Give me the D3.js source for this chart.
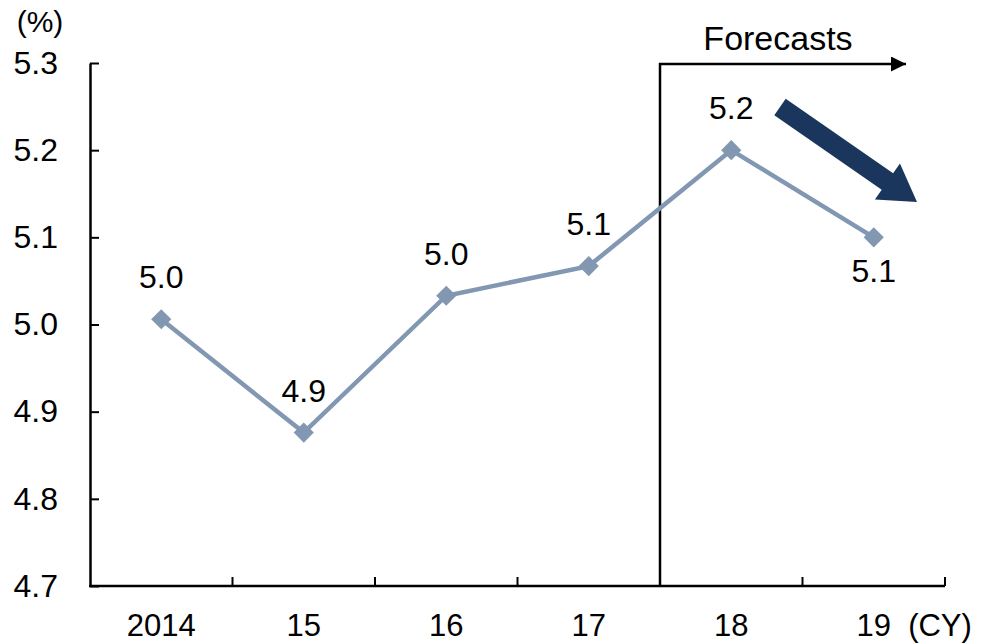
<!DOCTYPE html>
<html>
<head>
<meta charset="utf-8">
<script src="https://cdn.jsdelivr.net/npm/d3@7"></script>
<style>
  body { margin: 0; background: #fff; }
  text { font-family: "Liberation Sans", Arial, sans-serif; fill: #000; }
</style>
</head>
<body>
<script>
// values
var years = ["2014", "15", "16", "17", "18", "19"];
var rate = [5.006, 4.876, 5.033, 5.067, 5.2, 5.1];
var rateLabels = ["5.0", "4.9", "5.0", "5.1", "5.2", "5.1"];
var yTicks = [4.7, 4.8, 4.9, 5.0, 5.1, 5.2, 5.3];
var forecastFrom = "18";

var W = 982, H = 644;
var svg = d3.select("body").append("svg")
    .attr("width", W)
    .attr("height", H);

var x = d3.scaleBand()
    .domain(years)
    .range([90, 945])
    .padding(0);

var y = d3.scaleLinear()
    .domain([4.7, 5.3])
    .range([586, 63]);

// y axis
var yAxis = svg.append("g")
    .attr("transform", "translate(90,0)")
    .call(d3.axisLeft(y)
        .tickValues(yTicks)
        .tickFormat(d3.format(".1f"))
        .tickSizeInner(-9)
        .tickSizeOuter(0)
        .tickPadding(32));
yAxis.select(".domain").attr("stroke", "#000").attr("stroke-width", 2.5);
yAxis.selectAll(".tick line").attr("stroke", "#000").attr("stroke-width", 2);
yAxis.selectAll(".tick text")
    .attr("font-size", 32)
    .attr("font-family", "Liberation Sans, Arial, sans-serif")
    .attr("fill", "#000");

// x axis: ticks at band edges, pointing up
var edges = years.map(function(d){ return x(d); }).concat([x.range()[1]]);
var xg = svg.append("g");
xg.append("line")
    .attr("x1", 89).attr("x2", 945)
    .attr("y1", y(4.7)).attr("y2", y(4.7))
    .attr("stroke", "#000").attr("stroke-width", 2.5);
xg.selectAll("line.tk")
    .data(edges.slice(1))
    .enter()
    .append("line")
    .attr("class", "tk")
    .attr("x1", function(d){ return d; })
    .attr("x2", function(d){ return d; })
    .attr("y1", y(4.7))
    .attr("y2", y(4.7) - 9)
    .attr("stroke", "#000").attr("stroke-width", 2);
xg.selectAll("text.lab")
    .data(years)
    .enter()
    .append("text")
    .attr("class", "lab")
    .attr("x", function(d){ return x(d) + x.bandwidth() / 2; })
    .attr("y", 636)
    .attr("text-anchor", "middle")
    .attr("font-size", 31)
    .text(function(d){ return d; });

svg.append("text")
    .attr("x", 940).attr("y", 636)
    .attr("text-anchor", "middle")
    .attr("font-size", 31)
    .text("(CY)");

svg.append("text")
    .attr("x", 40).attr("y", 32)
    .attr("text-anchor", "middle")
    .attr("font-size", 30)
    .text("(%)");

// forecast bracket
var fx = x(forecastFrom);
svg.append("defs").append("marker")
    .attr("id", "ah")
    .attr("viewBox", "0 0 10 10")
    .attr("refX", 10).attr("refY", 5)
    .attr("markerWidth", 7).attr("markerHeight", 6)
    .attr("markerUnits", "strokeWidth")
    .attr("orient", "auto")
    .append("path")
    .attr("d", "M0,0L10,5L0,10Z")
    .attr("fill", "#000");
svg.append("line")
    .attr("x1", fx).attr("x2", fx)
    .attr("y1", y(4.7)).attr("y2", y(5.3))
    .attr("stroke", "#000").attr("stroke-width", 2.5);
svg.append("line")
    .attr("x1", fx - 1).attr("x2", 906)
    .attr("y1", y(5.3) + 1).attr("y2", y(5.3) + 1)
    .attr("stroke", "#000").attr("stroke-width", 2.5)
    .attr("marker-end", "url(#ah)");
svg.append("text")
    .attr("x", 778).attr("y", 50)
    .attr("text-anchor", "middle")
    .attr("font-size", 34)
    .text("Forecasts");

// series line
var pts = years.map(function(d, i){ return { yr: d, v: rate[i], lab: rateLabels[i] }; });
var cx = function(d){ return x(d.yr) + x.bandwidth() / 2; };

svg.append("path")
    .datum(pts)
    .attr("fill", "none")
    .attr("stroke", "#8297b1")
    .attr("stroke-width", 4.5)
    .attr("d", d3.line().x(cx).y(function(d){ return y(d.v); }));

svg.selectAll("path.mk")
    .data(pts)
    .enter()
    .append("path")
    .attr("class", "mk")
    .attr("d", d3.symbol().type(d3.symbolDiamond2).size(260))
    .attr("fill", "#8297b1")
    .attr("transform", function(d){ return "translate(" + cx(d) + "," + y(d.v) + ")"; });

svg.selectAll("text.val")
    .data(pts)
    .enter()
    .append("text")
    .attr("class", "val")
    .attr("x", cx)
    .attr("y", function(d, i){
        return i == pts.length - 1 ? y(d.v) + 45 : y(d.v) - 31;
    })
    .attr("text-anchor", "middle")
    .attr("font-size", 32)
    .text(function(d){ return d.lab; });

// big downward trend arrow
var ax0 = 780, ay0 = 107, ax1 = 917, ay1 = 202;
var ang = Math.atan2(ay1 - ay0, ax1 - ax0);
var len = Math.hypot(ax1 - ax0, ay1 - ay0);
var sw = 10, hw = 22, hl = 36;
svg.append("path")
    .attr("d", "M0," + (-sw) + "L" + (len - hl) + "," + (-sw) + "L" + (len - hl) + "," + (-hw) +
        "L" + len + ",0L" + (len - hl) + "," + hw + "L" + (len - hl) + "," + sw + "L0," + sw + "Z")
    .attr("fill", "#1a365c")
    .attr("transform", "translate(" + ax0 + "," + ay0 + ") rotate(" + (ang * 180 / Math.PI) + ")");
</script>
</body>
</html>
